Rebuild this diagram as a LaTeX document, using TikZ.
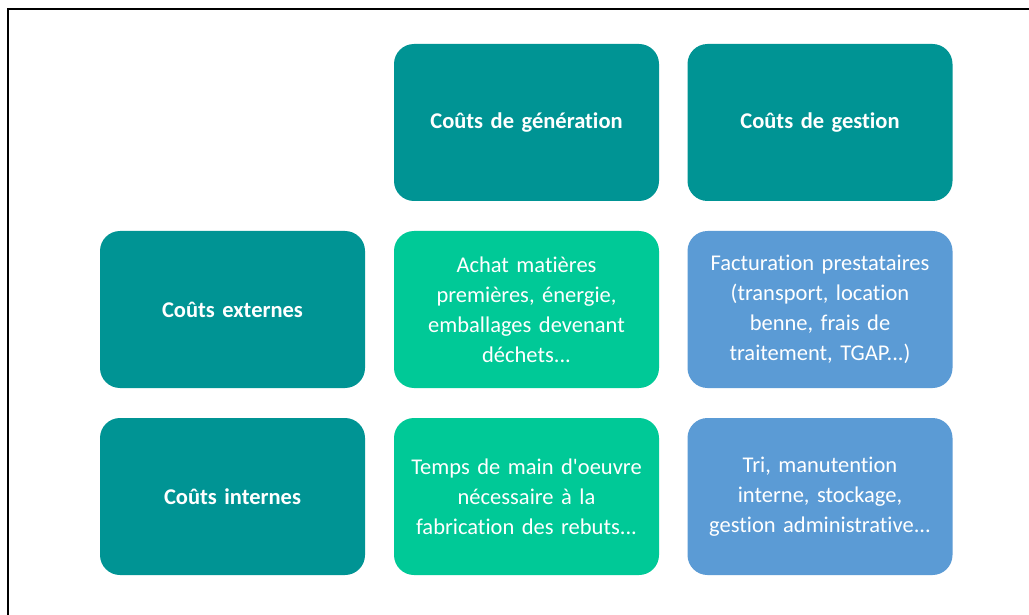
\documentclass[tikz,border=0pt]{standalone}
\usepackage{fontspec}
\setmainfont[Ligatures={NoCommon}]{Carlito}
\definecolor{tealbox}{RGB}{0,148,148}
\definecolor{greenbox}{RGB}{0,201,151}
\definecolor{bluebox}{RGB}{91,155,213}
\tikzset{
  cell/.style={rounded corners=20pt, minimum width=265pt, minimum height=157pt,
    inner sep=0pt, text=white, align=center, text width=250pt,
    font=\fontsize{22.5}{30}\selectfont},
  headbox/.style={cell, fill=tealbox, font=\fontsize{22.5}{30}\selectfont\bfseries},
  genbox/.style={cell, fill=greenbox},
  gesbox/.style={cell, fill=bluebox},
  frameline/.style={line width=2.2pt, black}
}
\begin{document}
\begin{tikzpicture}[x=1pt,y=-1pt]
\useasboundingbox[fill=white] (0,0) rectangle (1029,615);
\coordinate (fbl) at (8,615);
\coordinate (ftl) at (8,9);
\coordinate (ftr) at (1029,9);
\draw[frameline] (fbl) -- (ftl) -- (ftr);

\node[headbox] (hgen) at (526.5,122.5) {Coûts de génération};
\node[headbox] (hges) at (820,122.5) {Coûts de gestion};
\node[headbox] (hext) at (232.5,309.5) {Coûts externes};
\node[headbox] (hint) at (232.5,496.5) {Coûts internes};

\node[genbox] (egen) at (526.5,309.5) {Achat matières\\premières, énergie,\\emballages devenant\\déchets...};
\node[gesbox] (eges) at (820,309.5) {Facturation prestataires\\(transport, location\\benne, frais de\\traitement, TGAP...)};
\node[genbox] (igen) at (526.5,496.5) {Temps de main d\textquotesingle oeuvre\\nécessaire à la\\fabrication des rebuts...};
\node[gesbox] (iges) at (820,496.5) {Tri, manutention\\interne, stockage,\\gestion administrative...};
\end{tikzpicture}
\end{document}
